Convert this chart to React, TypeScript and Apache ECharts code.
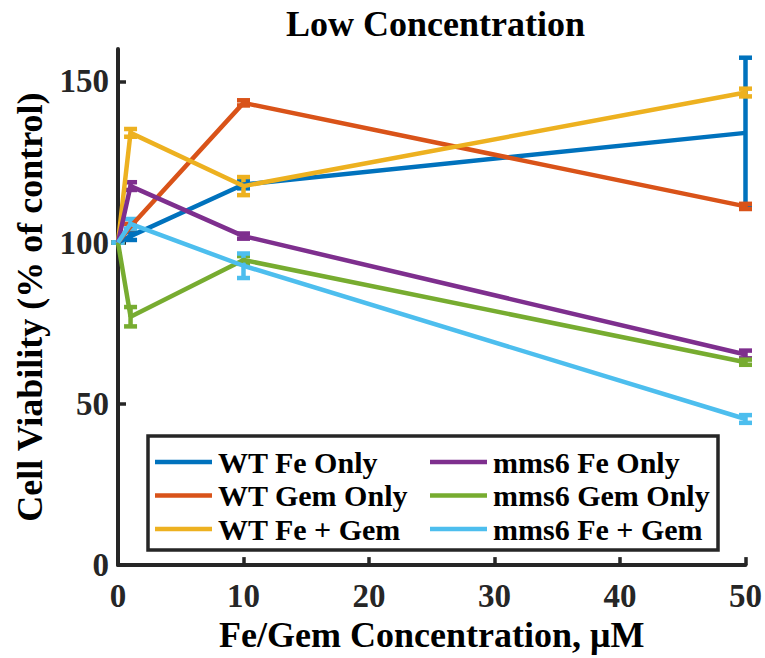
import React, { useEffect, useRef } from "react";
import * as echarts from "echarts";

const xValues = [0, 1, 10, 50];
const seriesNames = [
  "WT Fe Only",
  "WT Gem Only",
  "WT Fe + Gem",
  "mms6 Fe Only",
  "mms6 Gem Only",
  "mms6 Fe + Gem",
];
const seriesColors = ["#0072BD", "#D95319", "#EDB120", "#7E2F8E", "#77AC30", "#4DBEEE"];
const wtFeOnly = [100, 102, 118, 134];
const wtGemOnly = [100, 105, 143.3, 111.2];
const wtFeGem = [100, 134, 117.5, 146.5];
const mms6FeOnly = [100, 117.5, 102, 65.3];
const mms6GemOnly = [100, 77, 94.6, 62.9];
const mms6FeGem = [100, 105.8, 92.8, 45.3];
const wtFeOnlyErr = [0, 1.2, 1.2, 23.3];
const wtGemOnlyErr = [0, 0.8, 0.8, 0.8];
const wtFeGemErr = [0, 1.2, 2.8, 1.2];
const mms6FeOnlyErr = [0, 1.2, 0.8, 1.2];
const mms6GemOnlyErr = [0, 3, 1.2, 0.8];
const mms6FeGemErr = [0, 1.5, 3.8, 1.2];
const xTicks = [0, 10, 20, 30, 40, 50];
const yTicks = [0, 50, 100, 150];

const allValues = [wtFeOnly, wtGemOnly, wtFeGem, mms6FeOnly, mms6GemOnly, mms6FeGem];
const allErrors = [wtFeOnlyErr, wtGemOnlyErr, wtFeGemErr, mms6FeOnlyErr, mms6GemOnlyErr, mms6FeGemErr];

const FONT = "Liberation Serif";
const AXIS_COLOR = "#262626";

export default function App() {
  const ref = useRef<HTMLDivElement>(null);
  useEffect(() => {
    if (!ref.current) return;
    const chart = echarts.init(ref.current, null, { renderer: "svg" });
    const series: any[] = [];
    seriesNames.forEach((name, i) => {
      const color = seriesColors[i];
      series.push({
        type: "line",
        name,
        data: xValues.map((x, j) => [x, allValues[i][j]]),
        symbol: "none",
        lineStyle: { color, width: 4.5 },
        itemStyle: { color },
        z: 2,
      });
      series.push({
        type: "custom",
        name: name + " error",
        data: xValues.map((x, j) => [x, allValues[i][j], allErrors[i][j]]),
        z: 2,
        renderItem: (params: any, api: any) => {
          const x = api.value(0);
          const y = api.value(1);
          const e = api.value(2);
          const top = api.coord([x, y + e]);
          const bot = api.coord([x, y - e]);
          const hw = 6.5;
          const style = { stroke: color, lineWidth: 4.5 };
          return {
            type: "group",
            children: [
              { type: "line", shape: { x1: top[0], y1: top[1], x2: bot[0], y2: bot[1] }, style },
              { type: "line", shape: { x1: top[0] - hw, y1: top[1], x2: top[0] + hw, y2: top[1] }, style },
              { type: "line", shape: { x1: bot[0] - hw, y1: bot[1], x2: bot[0] + hw, y2: bot[1] }, style },
            ],
          };
        },
      });
    });

    // Legend drawn as graphic elements (2 columns x 3 rows)
    const legendItems: any[] = [];
    const colX = [155, 430];
    const rowY = [462, 495.5, 529];
    seriesNames.forEach((name, i) => {
      const col = Math.floor(i / 3);
      const row = i % 3;
      const x0 = colX[col];
      const y0 = rowY[row];
      legendItems.push({
        type: "line",
        shape: { x1: x0, y1: y0, x2: x0 + 57, y2: y0 },
        style: { stroke: seriesColors[i], lineWidth: 4.5 },
        z: 6,
        silent: true,
      });
      legendItems.push({
        type: "text",
        x: x0 + 63,
        y: y0,
        style: {
          text: name,
          fontFamily: FONT,
          fontWeight: "bold",
          fontSize: 30,
          fill: "#000",
          align: "left",
          verticalAlign: "middle",
        },
        z: 6,
        silent: true,
      });
    });

    chart.setOption({
      animation: false,
      backgroundColor: "#ffffff",
      title: {
        text: "Low Concentration",
        left: 281,
        top: 1,
        textStyle: { fontFamily: FONT, fontWeight: "bold", fontSize: 36, color: "#000" },
      },
      grid: { left: 118, right: 14, top: 49, bottom: 92, containLabel: false },
      graphic: [
        {
          type: "rect",
          shape: { x: 148, y: 436, width: 570, height: 114 },
          style: { fill: "#ffffff", stroke: AXIS_COLOR, lineWidth: 3.5 },
          z: 4,
          silent: true,
        },
        ...legendItems,
      ],
      xAxis: {
        type: "value",
        min: xTicks[0],
        max: xTicks[xTicks.length - 1],
        interval: 10,
        name: "Fe/Gem Concentration, μM",
        nameLocation: "middle",
        nameGap: 46,
        nameTextStyle: { fontFamily: FONT, fontWeight: "bold", fontSize: 36, color: "#000" },
        axisLine: { show: true, lineStyle: { color: AXIS_COLOR, width: 4 } },
        axisTick: { show: true, inside: true, length: 8, lineStyle: { color: AXIS_COLOR, width: 3.5 } },
        axisLabel: { fontFamily: FONT, fontWeight: "bold", fontSize: 33, color: AXIS_COLOR, margin: 14 },
        splitLine: { show: false },
      },
      yAxis: {
        type: "value",
        min: 0,
        max: 160,
        interval: 50,
        name: "Cell Viability (% of control)",
        nameLocation: "middle",
        nameGap: 70,
        nameTextStyle: { fontFamily: FONT, fontWeight: "bold", fontSize: 36, color: "#000" },
        axisLine: { show: true, lineStyle: { color: AXIS_COLOR, width: 4 } },
        axisTick: { show: true, inside: true, length: 8, lineStyle: { color: AXIS_COLOR, width: 3.5 } },
        axisLabel: {
          fontFamily: FONT,
          fontWeight: "bold",
          fontSize: 33,
          color: AXIS_COLOR,
          margin: 9,
          showMaxLabel: false,
          formatter: (v: number) => (yTicks.includes(v) ? String(v) : ""),
        },
        splitLine: { show: false },
      },
      series,
    });
    return () => chart.dispose();
  }, []);
  return (
    <div
      ref={ref}
      style={{ position: "fixed", left: 0, top: 0, width: 765, height: 658 }}
    />
  );
}
